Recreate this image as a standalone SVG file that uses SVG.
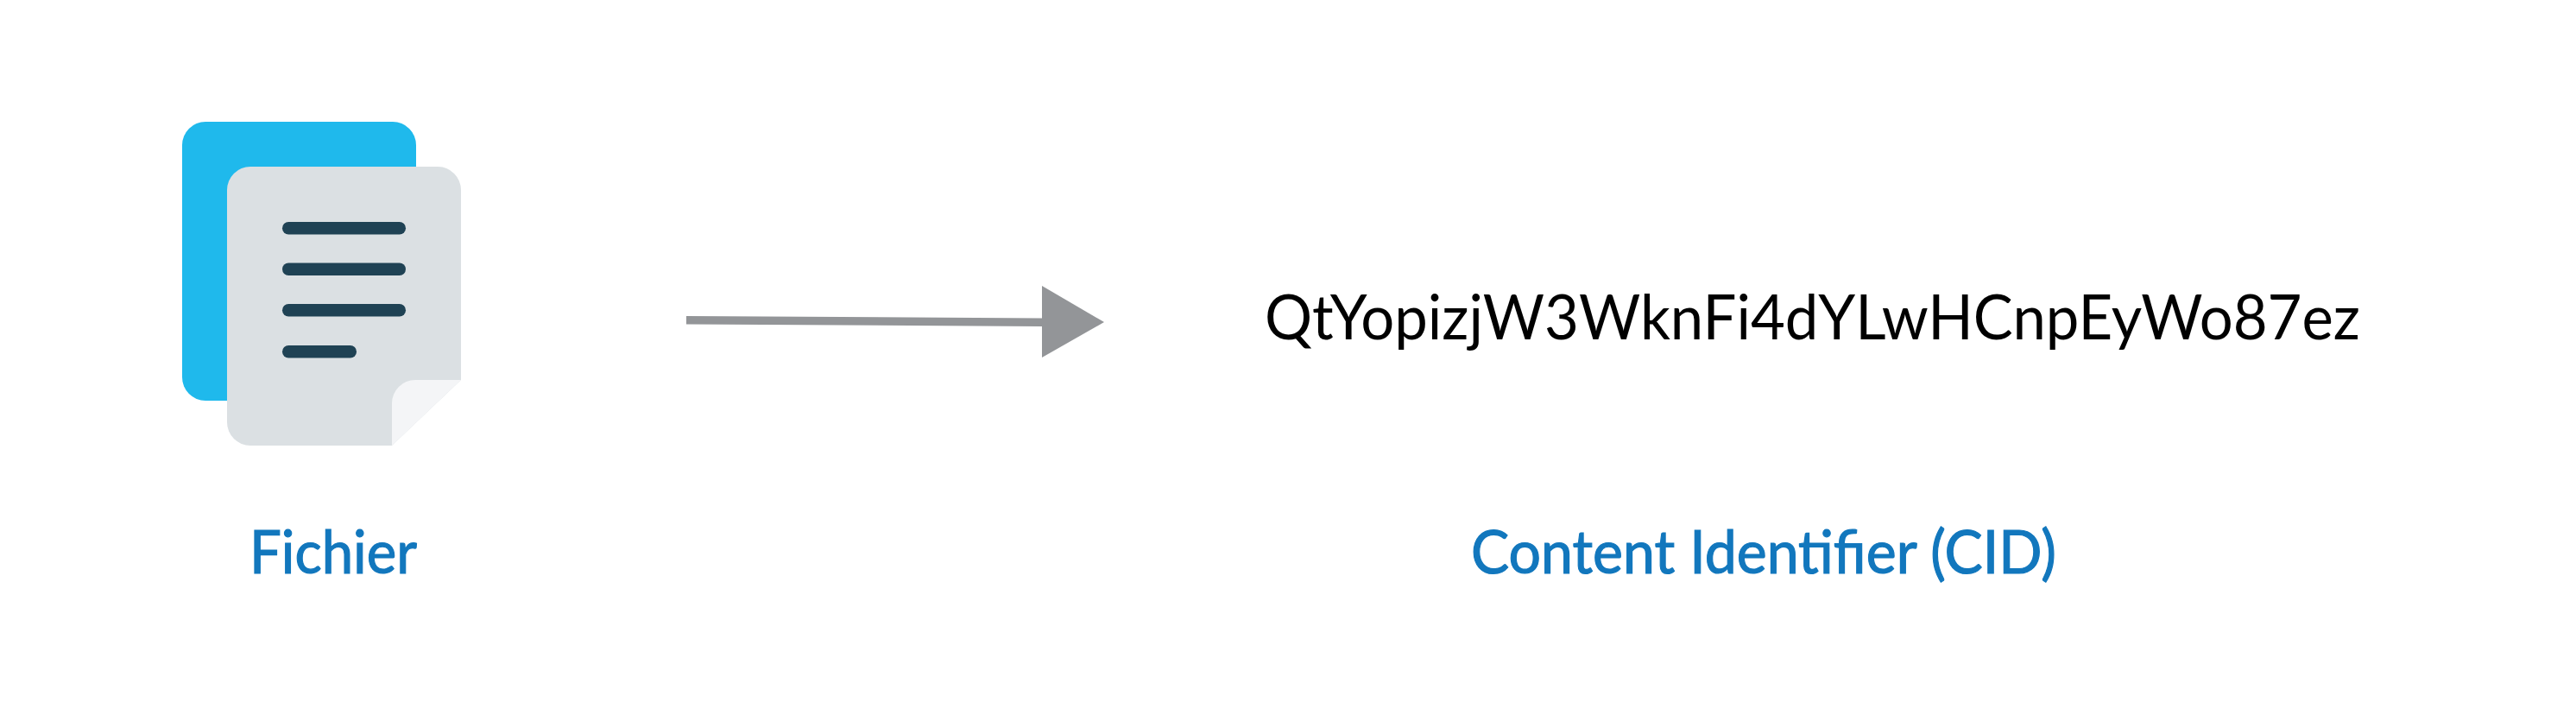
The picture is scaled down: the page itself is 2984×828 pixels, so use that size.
<svg xmlns="http://www.w3.org/2000/svg" width="2984" height="828" viewBox="0 0 2984 828">
<style>
text{font-family:"Lato","Open Sans",sans-serif}
.lbl{font-size:69px;fill:#1277bd;stroke:#1277bd;stroke-width:1.200px}
.cid{font-size:72px;fill:#000}
.ln{fill:#1f4254}
</style>
<rect width="2984" height="828" fill="#fff"/>
<g id="file">
<rect x="211" y="141" width="271" height="323" rx="27" fill="#1fb9ec"/>
<path d="M290 193H507a27 27 0 0 1 27 27V440L454 516H290a27 27 0 0 1-27-27V220a27 27 0 0 1 27-27Z" fill="#dbe0e3"/>
<path d="M534 440H481a27 27 0 0 0-27 27V516Z" fill="#f4f5f7"/>
<rect class="ln" x="327" y="257" width="143" height="14.500" rx="7.200"/>
<rect class="ln" x="327" y="304.500" width="143" height="14.500" rx="7.200"/>
<rect class="ln" x="327" y="352" width="143" height="14.500" rx="7.200"/>
<rect class="ln" x="327" y="400" width="86" height="14.500" rx="7.200"/>
<text class="lbl" x="289" y="664" textLength="194" lengthAdjust="spacingAndGlyphs">Fichier</text>
</g>
<g id="connectors">
<path d="M795 366L1207 368.500V378L795 375.500Z" fill="#939598"/>
<path d="M1207 331L1279 373L1207 414Z" fill="#939598"/>
</g>
<g id="cid">
<text class="cid" x="1465" y="393" textLength="1269" lengthAdjust="spacingAndGlyphs">QtYopizjW3WknFi4dYLwHCnpEyWo87ez</text>
<text class="lbl" x="1704" y="664" textLength="678" lengthAdjust="spacingAndGlyphs">Content Identifier (CID)</text>
</g>
</svg>
